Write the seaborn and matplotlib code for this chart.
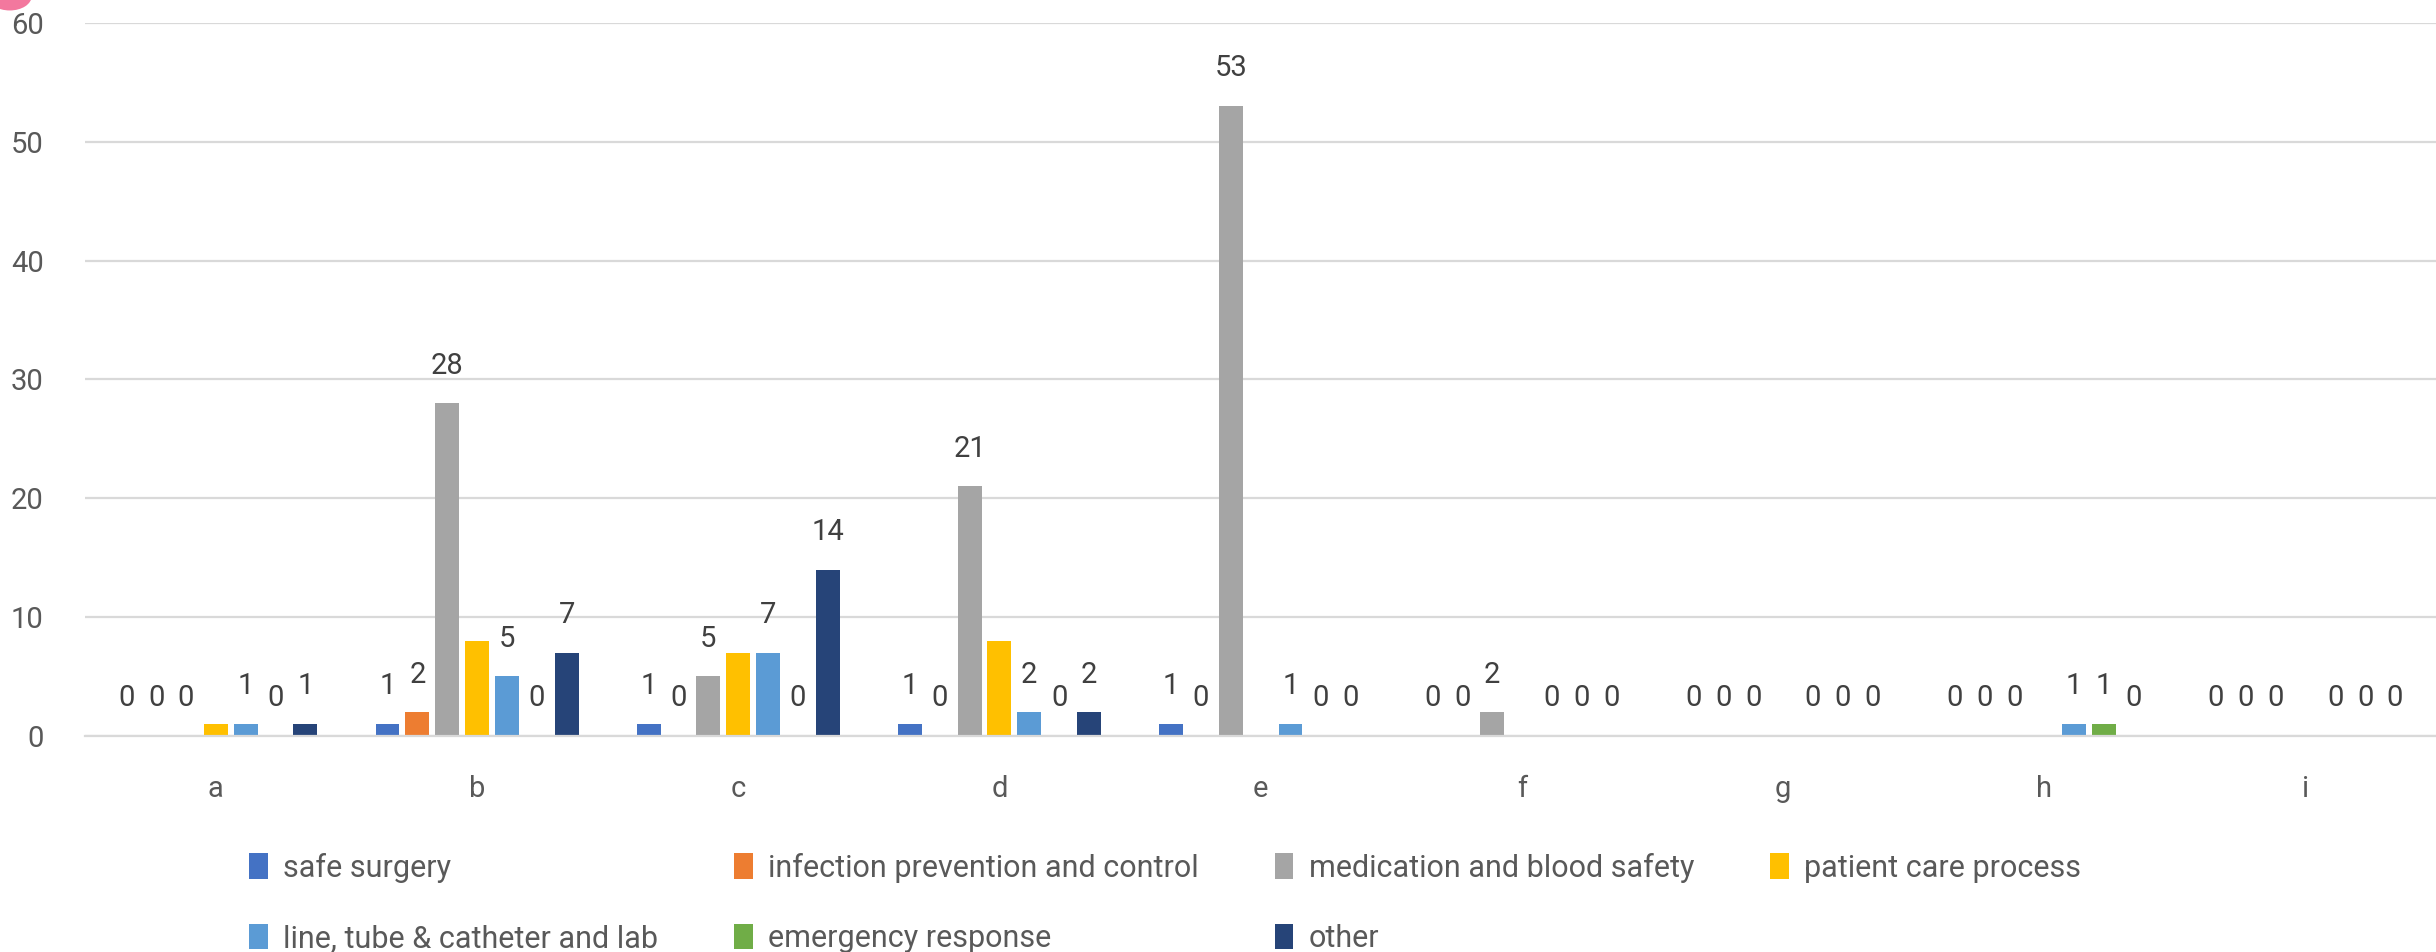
import matplotlib
matplotlib.use("Agg")
import matplotlib.pyplot as plt
from matplotlib.patches import Ellipse
import pandas as pd
import seaborn as sns

# Incident counts per unit, split by incident type
categories = ["a", "b", "c", "d", "e", "f", "g", "h", "i"]
series_names = [
    "safe surgery",
    "infection prevention and control",
    "medication and blood safety",
    "patient care process",
    "line, tube & catheter and lab",
    "emergency response",
    "other",
]
safe_surgery = [0, 1, 1, 1, 1, 0, 0, 0, 0]
infection_prevention = [0, 2, 0, 0, 0, 0, 0, 0, 0]
medication_blood = [0, 28, 5, 21, 53, 2, 0, 0, 0]
patient_care = [1, 8, 7, 8, 0, 0, 0, 0, 0]
line_tube_lab = [1, 5, 7, 2, 1, 0, 0, 1, 0]
emergency_response = [0, 0, 0, 0, 0, 0, 0, 1, 0]
other = [1, 7, 14, 2, 0, 0, 0, 0, 0]
y_ticks = [0, 10, 20, 30, 40, 50, 60]

colors = ["#4472C4", "#ED7D31", "#A5A5A5", "#FFC000", "#5B9BD5", "#70AD47", "#264478"]
unlabeled_series = {"patient care process"}

all_series = [safe_surgery, infection_prevention, medication_blood, patient_care,
              line_tube_lab, emergency_response, other]
rows = []
for name, vals in zip(series_names, all_series):
    for cat, v in zip(categories, vals):
        rows.append({"category": cat, "series": name, "count": v})
df = pd.DataFrame(rows)

sns.set_theme(style="white")
plt.rcParams["font.family"] = ["Roboto", "DejaVu Sans"]
FS = 21

fig = plt.figure(figsize=(24.36, 9.52), dpi=100)
ax = fig.add_axes([0.035, 0.227, 0.965, 0.749])

sns.barplot(data=df, x="category", y="count", hue="series", hue_order=series_names,
            order=categories, palette=colors, width=0.8, gap=0.2, linewidth=0,
            saturation=1, ax=ax)

# value labels above bars (the patient care series carries none)
for name, container in zip(series_names, ax.containers):
    if name in unlabeled_series:
        continue
    ax.bar_label(container, labels=[f"{int(b.get_height())}" for b in container],
                 padding=17, fontsize=FS, color="#404040")

ax.set_ylim(0, 60)
ax.set_xlim(-0.5, len(categories) - 0.5)
ax.set_yticks(y_ticks)
ax.yaxis.grid(True, color="#D9D9D9", linewidth=1.6)
ax.set_axisbelow(True)
for side in ["top", "right", "left"]:
    ax.spines[side].set_visible(False)
ax.spines["bottom"].set_color("#D9D9D9")
ax.spines["bottom"].set_linewidth(1.6)
ax.tick_params(axis="y", length=0, pad=30, labelsize=FS, labelcolor="#595959")
ax.tick_params(axis="x", length=0, pad=28, labelsize=FS, labelcolor="#595959")
ax.set_xlabel("")
ax.set_ylabel("")

# legend laid out row by row: 4 entries on the first row, 3 on the second
handles, labels = ax.get_legend_handles_labels()
ax.get_legend().remove()
order = [0, 4, 1, 5, 2, 6, 3]
fig.legend([handles[i] for i in order], [labels[i] for i in order],
           loc="lower left", bbox_to_anchor=(0.091, -0.03), ncol=4, frameon=False,
           fontsize=22, labelcolor="#595959", handlelength=0.6, handleheight=0.9,
           handletextpad=0.5, columnspacing=2.5, labelspacing=1.35)

fig.patches.append(Ellipse((0.004, 1.004), 0.018, 0.03, transform=fig.transFigure,
                           facecolor="#F3789E", edgecolor="none"))

fig.savefig("out.png", dpi=100)
